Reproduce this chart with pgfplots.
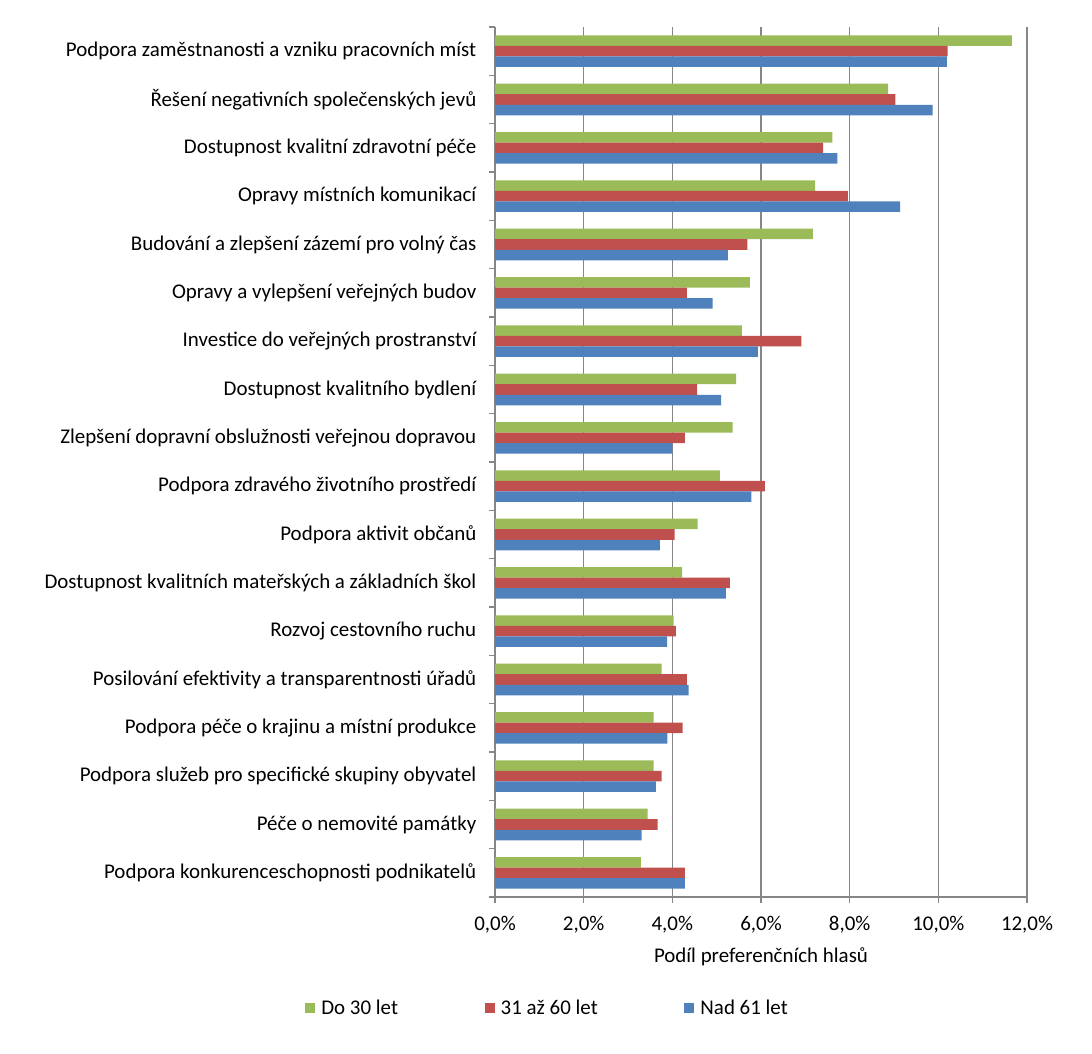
\documentclass[border=0pt]{standalone}
\usepackage{fontspec}
\setmainfont{Carlito}
\usepackage{pgfplots}
\pgfplotsset{compat=1.18}
\definecolor{cgreen}{HTML}{9BBB59}
\definecolor{cred}{HTML}{C0504D}
\definecolor{cblue}{HTML}{4F81BD}
\definecolor{cgrid}{HTML}{868686}
\newcommand{\lblfont}{\fontsize{15.7pt}{18pt}\selectfont}
\begin{document}
\begin{tikzpicture}
\useasboundingbox (0,0) rectangle (819pt,789.75pt);
\begin{axis}[
  at={(371.25pt,117pt)}, anchor=south west,
  scale only axis, width=399pt, height=652.5pt,
  xbar, bar width=7.9pt,
  y dir=reverse,
  xmin=0, xmax=12, ymin=-0.5, ymax=17.5,
  axis lines*=left, axis line style={cgrid, line width=0.8pt, -},
  xtick={0,2,4,6,8,10,12},
  xticklabels={{0,0\%},{2,0\%},{4,0\%},{6,0\%},{8,0\%},{10,0\%},{12,0\%}},
  xmajorgrids, grid style={cgrid, line width=0.8pt},
  major x tick style={cgrid, line width=0.8pt},
  tick align=outside, major tick length=4.5pt,
  ytick={0,...,17},
  major y tick style={draw=none},
  minor ytick={-0.5,0.5,...,17.5},
  minor y tick style={cgrid, line width=0.8pt},
  minor tick length=4.5pt,
  yticklabels={
    Podpora zaměstnanosti a vzniku pracovních míst,
    Řešení negativních společenských jevů,
    Dostupnost kvalitní zdravotní péče,
    Opravy místních komunikací,
    Budování a zlepšení zázemí pro volný čas,
    Opravy a vylepšení veřejných budov\hspace{0.25em},
    Investice do veřejných prostranství\hspace{0.25em},
    Dostupnost kvalitního bydlení,
    Zlepšení dopravní obslužnosti veřejnou dopravou,
    Podpora zdravého životního prostředí,
    Podpora aktivit občanů,
    Dostupnost kvalitních mateřských a základních škol,
    Rozvoj cestovního ruchu,
    Posilování efektivity a transparentnosti úřadů,
    Podpora péče o krajinu a místní produkce,
    Podpora služeb pro specifické skupiny obyvatel,
    Péče o nemovité památky,
    Podpora konkurenceschopnosti podnikatelů},
  yticklabel style={font=\lblfont, anchor=east, xshift=-6pt},
  xticklabel style={font=\lblfont, yshift=-6pt},
  xlabel={Podíl preferenčních hlasů},
  xlabel style={font=\lblfont, yshift=-4pt},
  legend style={draw=none, inner sep=0pt, at={(-0.357,-0.1276)}, anchor=west,
    legend columns=3, font=\lblfont,
    /tikz/every odd column/.append style={column sep=2.5pt},
    /tikz/every even column/.append style={column sep=63pt}},
  legend image code/.code={\fill[#1] (0pt,-3.75pt) rectangle (7.5pt,3.75pt);},
  clip=false,
]
\addplot[fill=cgreen, draw=none, bar shift=7.9pt] coordinates {
(11.66,0) (8.87,1) (7.61,2) (7.22,3) (7.17,4) (5.75,5) (5.57,6) (5.44,7) (5.36,8)
(5.07,9) (4.57,10) (4.22,11) (4.03,12) (3.76,13) (3.58,14) (3.58,15) (3.44,16) (3.29,17)};
\addplot[fill=cred, draw=none, bar shift=0pt] coordinates {
(10.21,0) (9.03,1) (7.40,2) (7.96,3) (5.69,4) (4.33,5) (6.91,6) (4.56,7) (4.28,8)
(6.09,9) (4.05,10) (5.30,11) (4.08,12) (4.33,13) (4.23,14) (3.76,15) (3.67,16) (4.28,17)};
\addplot[fill=cblue, draw=none, bar shift=-7.9pt] coordinates {
(10.19,0) (9.87,1) (7.72,2) (9.14,3) (5.25,4) (4.91,5) (5.93,6) (5.10,7) (4.00,8)
(5.78,9) (3.72,10) (5.21,11) (3.88,12) (4.37,13) (3.89,14) (3.63,15) (3.31,16) (4.28,17)};
\legend{Do 30 let, 31 až 60 let, Nad 61 let}
\end{axis}
\end{tikzpicture}
\end{document}
